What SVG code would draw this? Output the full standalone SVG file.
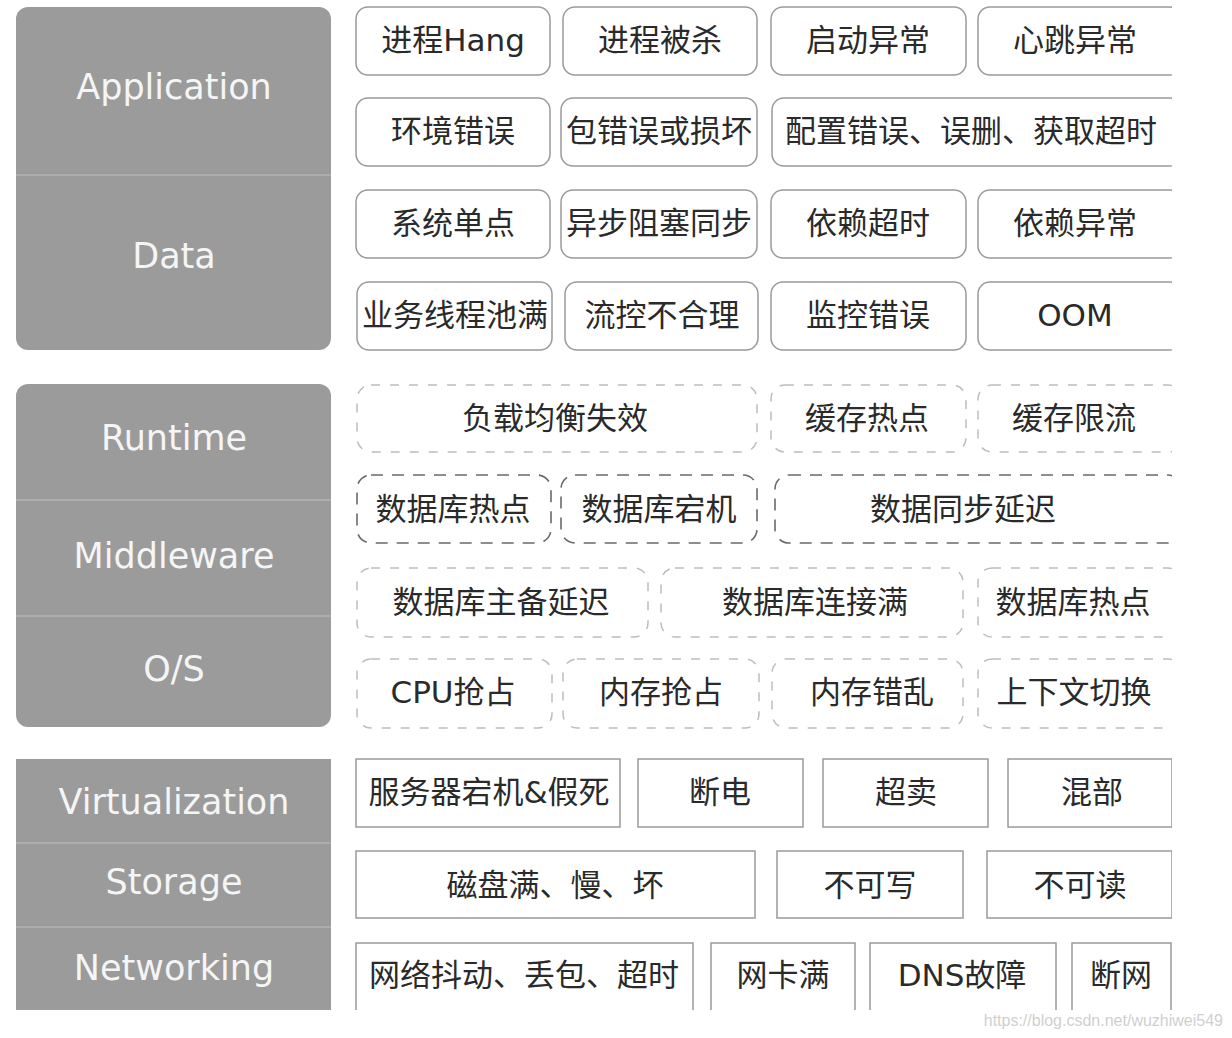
<svg xmlns="http://www.w3.org/2000/svg" width="1232" height="1038" viewBox="0 0 1232 1038">
<defs>
<style>
.panel{fill:#9b9b9b}
.dv{stroke:#b3b3b3;stroke-width:1.5}
.pl{font-family:"DejaVu Sans","Noto Sans",sans-serif;font-size:35px;fill:#f5f5f5;text-anchor:middle}
.sb{fill:#fff;stroke:#9a9a9a;stroke-width:1.5}
.db{fill:#fff;stroke:#bdbdbd;stroke-width:1.5;stroke-dasharray:9 10}
.db2{fill:#fff;stroke:#6a6a6a;stroke-width:1.6;stroke-dasharray:12 9}
.rb{fill:#fff;stroke:#9a9a9a;stroke-width:1.5}
.t{font-family:"DejaVu Sans","Noto Sans CJK SC",sans-serif;font-size:31px;fill:#2a2a2a;text-anchor:middle}
.wm{font-family:"Liberation Sans",sans-serif;font-size:16px;fill:#cfcfcf;text-anchor:end}
</style>
<clipPath id="cr"><rect x="0" y="0" width="1172" height="1038"/></clipPath>
<clipPath id="cb"><rect x="0" y="0" width="1172" height="1010"/></clipPath>
</defs>
<rect width="1232" height="1038" fill="#fff"/>

<g id="panel-app-data">
<rect class="panel" x="16" y="7" width="315" height="343" rx="12"/>
<line class="dv" x1="16" y1="175" x2="331" y2="175"/>
<text class="pl" x="174" y="99">Application</text>
<text class="pl" x="174" y="268">Data</text>
</g>
<g id="panel-runtime-os">
<rect class="panel" x="16" y="384" width="315" height="343" rx="12"/>
<line class="dv" x1="16" y1="500" x2="331" y2="500"/>
<line class="dv" x1="16" y1="616" x2="331" y2="616"/>
<text class="pl" x="174" y="450">Runtime</text>
<text class="pl" x="174" y="568">Middleware</text>
<text class="pl" x="174" y="681">O/S</text>
</g>
<g id="panel-infra" clip-path="url(#cb)">
<rect class="panel" x="16" y="759" width="315" height="260"/>
<line class="dv" x1="16" y1="843" x2="331" y2="843"/>
<line class="dv" x1="16" y1="927" x2="331" y2="927"/>
<text class="pl" x="174" y="814">Virtualization</text>
<text class="pl" x="174" y="894">Storage</text>
<text class="pl" x="174" y="980">Networking</text>
</g>

<g id="app-boxes" clip-path="url(#cr)">
<g id="n-hang"><rect class="sb" x="356" y="7" width="194" height="68" rx="12"/><text class="t" x="453" y="51">进程Hang</text></g>
<g id="n-killed"><rect class="sb" x="563" y="7" width="194" height="68" rx="12"/><text class="t" x="660" y="51">进程被杀</text></g>
<g id="n-start"><rect class="sb" x="771" y="7" width="195" height="68" rx="12"/><text class="t" x="868" y="51">启动异常</text></g>
<g id="n-heartbeat"><rect class="sb" x="978" y="7" width="204" height="68" rx="12"/><text class="t" x="1075" y="51">心跳异常</text></g>

<g id="n-env"><rect class="sb" x="356" y="98" width="194" height="68" rx="12"/><text class="t" x="453" y="142">环境错误</text></g>
<g id="n-pkg"><rect class="sb" x="561" y="98" width="196" height="68" rx="12"/><text class="t" x="659" y="142">包错误或损坏</text></g>
<g id="n-config"><rect class="sb" x="772" y="98" width="410" height="68" rx="12"/><text class="t" x="971" y="142">配置错误、误删、获取超时</text></g>

<g id="n-spof"><rect class="sb" x="356" y="190" width="194" height="68" rx="12"/><text class="t" x="453" y="234">系统单点</text></g>
<g id="n-async"><rect class="sb" x="561" y="190" width="196" height="68" rx="12"/><text class="t" x="659" y="234">异步阻塞同步</text></g>
<g id="n-deptimeout"><rect class="sb" x="771" y="190" width="195" height="68" rx="12"/><text class="t" x="868" y="234">依赖超时</text></g>
<g id="n-deperr"><rect class="sb" x="978" y="190" width="204" height="68" rx="12"/><text class="t" x="1075" y="234">依赖异常</text></g>

<g id="n-pool"><rect class="sb" x="357" y="282" width="195" height="68" rx="12"/><text class="t" x="455" y="326">业务线程池满</text></g>
<g id="n-flow"><rect class="sb" x="565" y="282" width="193" height="68" rx="12"/><text class="t" x="662" y="326">流控不合理</text></g>
<g id="n-monitor"><rect class="sb" x="771" y="282" width="195" height="68" rx="12"/><text class="t" x="868" y="326">监控错误</text></g>
<g id="n-oom"><rect class="sb" x="978" y="282" width="204" height="68" rx="12"/><text class="t" x="1075" y="326">OOM</text></g>
</g>

<g id="runtime-boxes" clip-path="url(#cr)">
<g id="n-lb"><rect class="db" x="357" y="385" width="400" height="67" rx="14"/><text class="t" x="555" y="429">负载均衡失效</text></g>
<g id="n-cachehot"><rect class="db" x="771" y="385" width="195" height="67" rx="14"/><text class="t" x="867" y="429">缓存热点</text></g>
<g id="n-cachelimit"><rect class="db" x="978" y="385" width="204" height="67" rx="14"/><text class="t" x="1074" y="429">缓存限流</text></g>

<g id="n-dbhot1"><rect class="db2" x="357" y="475" width="194" height="68" rx="14"/><text class="t" x="453" y="520">数据库热点</text></g>
<g id="n-dbdown"><rect class="db2" x="561" y="475" width="196" height="68" rx="14"/><text class="t" x="659" y="520">数据库宕机</text></g>
<g id="n-sync"><rect class="db2" x="775" y="475" width="407" height="68" rx="14"/><text class="t" x="963" y="520">数据同步延迟</text></g>

<g id="n-dbrep"><rect class="db" x="357" y="568" width="291" height="69" rx="14"/><text class="t" x="501" y="613">数据库主备延迟</text></g>
<g id="n-dbconn"><rect class="db" x="661" y="568" width="302" height="69" rx="14"/><text class="t" x="815" y="613">数据库连接满</text></g>
<g id="n-dbhot2"><rect class="db" x="978" y="568" width="204" height="69" rx="14"/><text class="t" x="1073" y="613">数据库热点</text></g>

<g id="n-cpu"><rect class="db" x="357" y="659" width="195" height="69" rx="14"/><text class="t" x="453" y="703">CPU抢占</text></g>
<g id="n-mem"><rect class="db" x="563" y="659" width="196" height="69" rx="14"/><text class="t" x="661" y="703">内存抢占</text></g>
<g id="n-memerr"><rect class="db" x="772" y="659" width="191" height="69" rx="14"/><text class="t" x="872" y="703">内存错乱</text></g>
<g id="n-ctx"><rect class="db" x="978" y="659" width="204" height="69" rx="14"/><text class="t" x="1074" y="703">上下文切换</text></g>
</g>

<g id="infra-boxes" clip-path="url(#cb)">
<g id="n-server"><rect class="rb" x="356" y="759" width="264" height="68"/><text class="t" x="489" y="803">服务器宕机&amp;假死</text></g>
<g id="n-power"><rect class="rb" x="638" y="759" width="165" height="68"/><text class="t" x="720" y="803">断电</text></g>
<g id="n-oversell"><rect class="rb" x="823" y="759" width="165" height="68"/><text class="t" x="906" y="803">超卖</text></g>
<g id="n-mixed"><rect class="rb" x="1008" y="759" width="164" height="68"/><text class="t" x="1092" y="803">混部</text></g>

<g id="n-disk"><rect class="rb" x="356" y="851" width="399" height="67"/><text class="t" x="555" y="896">磁盘满、慢、坏</text></g>
<g id="n-nowrite"><rect class="rb" x="777" y="851" width="186" height="67"/><text class="t" x="870" y="896">不可写</text></g>
<g id="n-noread"><rect class="rb" x="987" y="851" width="185" height="67"/><text class="t" x="1080" y="896">不可读</text></g>

<g id="n-net"><rect class="rb" x="356" y="943" width="337" height="90"/><text class="t" x="524" y="986">网络抖动、丢包、超时</text></g>
<g id="n-nic"><rect class="rb" x="711" y="943" width="144" height="90"/><text class="t" x="783" y="986">网卡满</text></g>
<g id="n-dns"><rect class="rb" x="870" y="943" width="186" height="90"/><text class="t" x="962" y="986">DNS故障</text></g>
<g id="n-netdown"><rect class="rb" x="1072" y="943" width="99" height="90"/><text class="t" x="1121" y="986">断网</text></g>
</g>

<g id="connectors"></g>

<text class="wm" x="1223" y="1026">https://blog.csdn.net/wuzhiwei549</text>
</svg>
